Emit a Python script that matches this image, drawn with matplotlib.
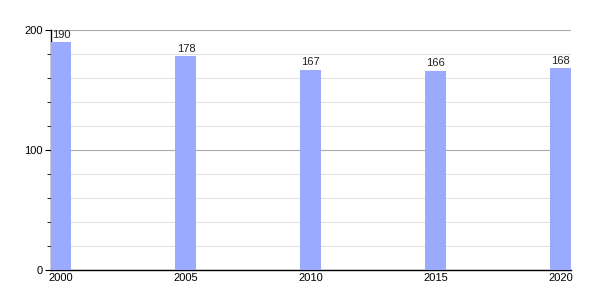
import matplotlib
matplotlib.use("Agg")
import matplotlib.pyplot as plt
from matplotlib.ticker import MultipleLocator

plt.rcParams["font.family"] = ["Liberation Sans", "DejaVu Sans"]

years = [2000, 2005, 2010, 2015, 2020]
values = [190, 178, 167, 166, 168]

fig = plt.figure(figsize=(6, 3), dpi=100)
ax = fig.add_axes([0.085, 0.10, 0.867, 0.80])

ax.bar(years, values, width=0.84, color="#99aaff", zorder=3)
for x, v in zip(years, values):
    ax.text(x, v + 2, str(v), ha="center", va="bottom", fontsize=8,
            color="#222222", zorder=4)

ax.set_xlim(1999.6, 2020.42)
ax.set_ylim(0, 200)
ax.set_xticks(years)
ax.yaxis.set_major_locator(MultipleLocator(100))
ax.yaxis.set_minor_locator(MultipleLocator(20))

ax.grid(True, axis="y", which="major", color="#aaaaaa", linewidth=0.8, zorder=1)
ax.grid(True, axis="y", which="minor", color="#e2e2e2", linewidth=0.8, zorder=1)

for s in ["top", "right"]:
    ax.spines[s].set_visible(False)
ax.spines["left"].set_linewidth(1.0)
ax.spines["bottom"].set_linewidth(1.0)

ax.tick_params(axis="x", length=0, labelsize=8, pad=2)
ax.tick_params(axis="y", which="major", length=4, labelsize=8, pad=2)
ax.tick_params(axis="y", which="minor", length=3)

fig.savefig("out.png", dpi=100)
